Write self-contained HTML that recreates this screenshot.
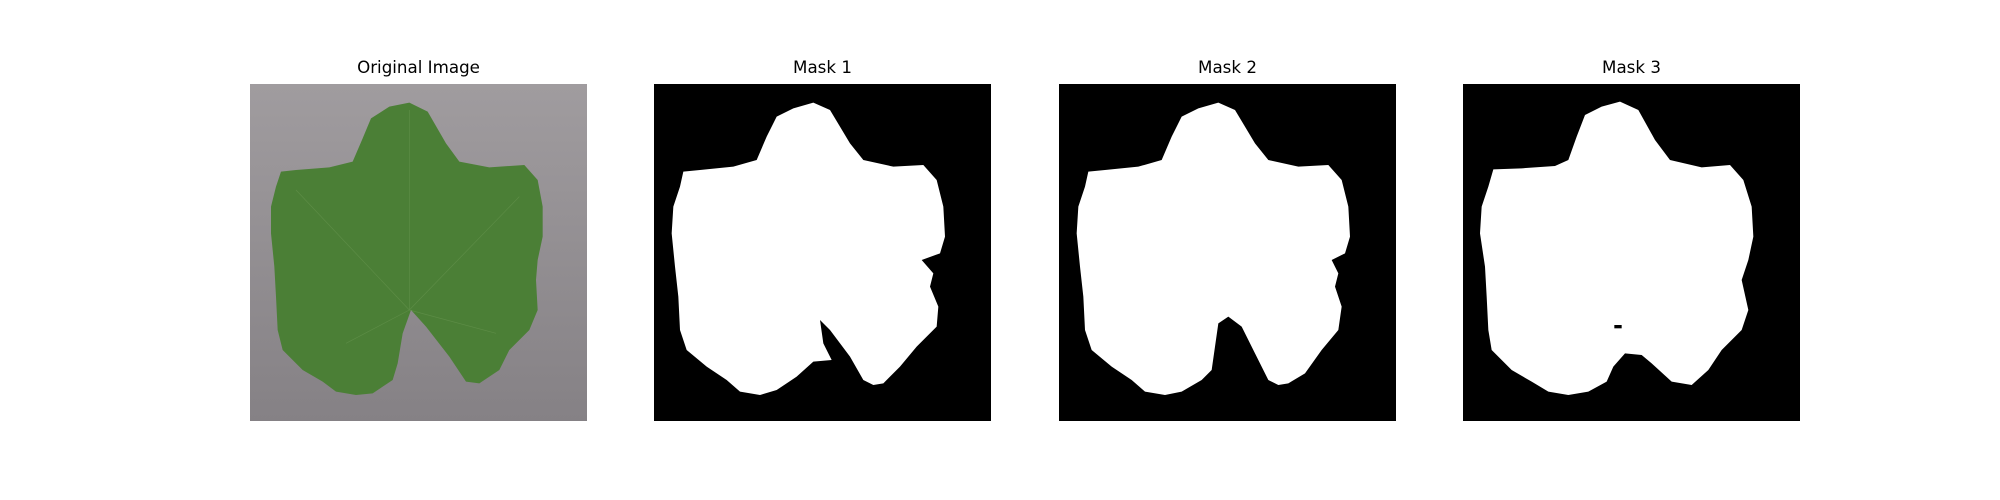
<!DOCTYPE html>
<html><head><meta charset="utf-8"><style>
body{margin:0;background:#fff;width:2000px;height:500px;position:relative;overflow:hidden;font-family:"DejaVu Sans","Liberation Sans",sans-serif}
.t{position:absolute;top:57px;width:337px;text-align:center;font-size:16.7px;color:#000}
svg{position:absolute;top:84px;width:337px;height:337px}
</style></head><body>
<div class="t" style="left:250px">Original Image</div>
<div class="t" style="left:654px">Mask 1</div>
<div class="t" style="left:1059px">Mask 2</div>
<div class="t" style="left:1463px">Mask 3</div>

<svg style="left:250px" viewBox="12 12 1011 1011" preserveAspectRatio="none">
<defs><linearGradient id="bg" x1="0" y1="0" x2="0" y2="1"><stop offset="0" stop-color="#a09c9f"/><stop offset="1" stop-color="#858185"/></linearGradient></defs>
<rect x="12" y="12" width="1011" height="1011" fill="url(#bg)"/>
<path d="M490,68 L545,95 L600,190 L640,245 L730,262 L835,255 L875,300 L890,380 L890,470 L875,540 L870,600 L875,690 L850,750 L790,810 L760,870 L700,910 L660,905 L610,830 L540,740 L495,690 L470,760 L455,850 L440,900 L380,940 L330,945 L270,935 L230,905 L170,870 L110,810 L95,750 L90,650 L85,560 L75,460 L75,380 L90,320 L105,275 L150,270 L250,262 L320,245 L350,175 L375,115 L430,80 Z" fill="#4b7f36"/>
<path d="M490,90 L490,690 M490,690 L150,330 M490,690 L820,350 M490,690 L300,790 M490,690 L750,760" stroke="#7fa563" stroke-width="2" fill="none" opacity=".35"/>
</svg>

<svg style="left:654px" viewBox="12 12 1011 1011" preserveAspectRatio="none">
<rect x="12" y="12" width="1011" height="1011" fill="#000"/>
<path d="M490,68 L540,90 L600,190 L640,240 L730,260 L820,255 L860,300 L880,380 L885,470 L870,520 L815,540 L850,580 L840,620 L865,680 L860,740 L800,800 L750,860 L700,910 L670,915 L640,900 L600,830 L540,750 L510,720 L520,790 L545,840 L490,845 L440,890 L380,930 L330,945 L270,935 L230,900 L170,860 L110,810 L90,750 L85,650 L75,560 L65,460 L70,380 L90,320 L100,275 L150,270 L250,260 L320,240 L350,170 L380,110 L430,85 Z" fill="#fff"/>
</svg>

<svg style="left:1059px" viewBox="12 12 1011 1011" preserveAspectRatio="none">
<rect x="12" y="12" width="1011" height="1011" fill="#000"/>
<path d="M490,68 L540,90 L600,190 L640,240 L730,260 L820,255 L860,300 L880,380 L885,470 L870,520 L830,540 L850,580 L840,620 L860,680 L850,750 L800,810 L750,880 L700,910 L670,915 L640,900 L600,820 L560,740 L520,710 L490,730 L480,800 L470,870 L440,900 L380,935 L330,945 L270,935 L230,900 L170,860 L110,810 L90,750 L85,650 L75,560 L65,460 L70,380 L90,320 L100,275 L150,270 L250,260 L320,240 L350,170 L380,110 L430,85 Z" fill="#fff"/>
</svg>

<svg style="left:1463px" viewBox="24 12 1011 1011" preserveAspectRatio="none">
<rect x="24" y="12" width="1011" height="1011" fill="#000"/>
<path d="M495,65 L550,90 L600,180 L645,240 L740,262 L825,255 L865,300 L890,380 L895,470 L880,540 L860,600 L880,690 L860,750 L800,810 L760,870 L710,915 L650,905 L590,850 L560,825 L510,820 L475,860 L455,905 L400,935 L340,945 L280,935 L230,905 L170,870 L110,810 L100,750 L95,650 L90,560 L75,460 L80,380 L100,320 L115,268 L200,265 L300,258 L340,240 L365,170 L390,105 L440,80 Z" fill="#fff"/>
<rect x="478" y="735" width="22" height="10" fill="#000"/>
</svg>
</body></html>
